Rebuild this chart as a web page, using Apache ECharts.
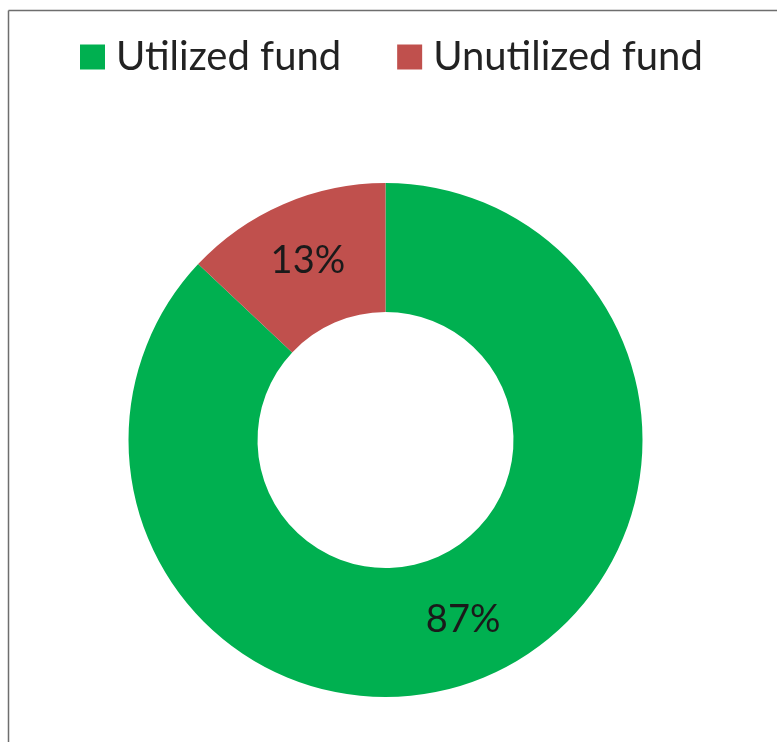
<!DOCTYPE html>
<html>
<head>
<meta charset="utf-8">
<script src="https://cdn.jsdelivr.net/npm/echarts@6/dist/echarts.min.js"></script>
<style>
html,body{margin:0;padding:0;background:#fff;}
#chart1{width:777px;height:742px;}
</style>
</head>
<body>
<div id="chart1"></div>
<script>
var names=['Utilized fund','Unutilized fund'];
var values=[87,13];
var colors=['#00b050','#c0504d'];

var chart1=echarts.init(document.getElementById('chart1'));
var pieData=[];
for(var i=0;i<names.length;i++){
    pieData.push({name:names[i],value:values[i],itemStyle:{color:colors[i]}});
}
var option={
    animation:false,
    backgroundColor:'#fff',
    graphic:[
        {type:'line',shape:{x1:8.5,y1:10.5,x2:8.5,y2:760},style:{stroke:'#6e6e6e',lineWidth:1.5}},
        {type:'line',shape:{x1:8.5,y1:10.5,x2:790,y2:10.5},style:{stroke:'#6e6e6e',lineWidth:1.5}}
    ],
    legend:{
        data:names,
        left:80,
        top:37,
        padding:0,
        icon:'rect',
        itemWidth:25,
        itemHeight:25,
        itemGap:56,
        textStyle:{
            fontFamily:'Lato',
            fontSize:40,
            color:'#222',
            padding:[0,0,0,6]
        }
    },
    series:[
        {
            type:'pie',
            center:[385.5,440],
            radius:[128,257],
            startAngle:90,
            clockwise:true,
            data:pieData,
            label:{
                show:true,
                position:'inside',
                formatter:'{c}%',
                fontFamily:'Lato',
                fontSize:38,
                color:'#1a1a1a'
            },
            labelLine:{show:false},
            emphasis:{disabled:true}
        }
    ]
};
chart1.setOption(option);
</script>
</body>
</html>
